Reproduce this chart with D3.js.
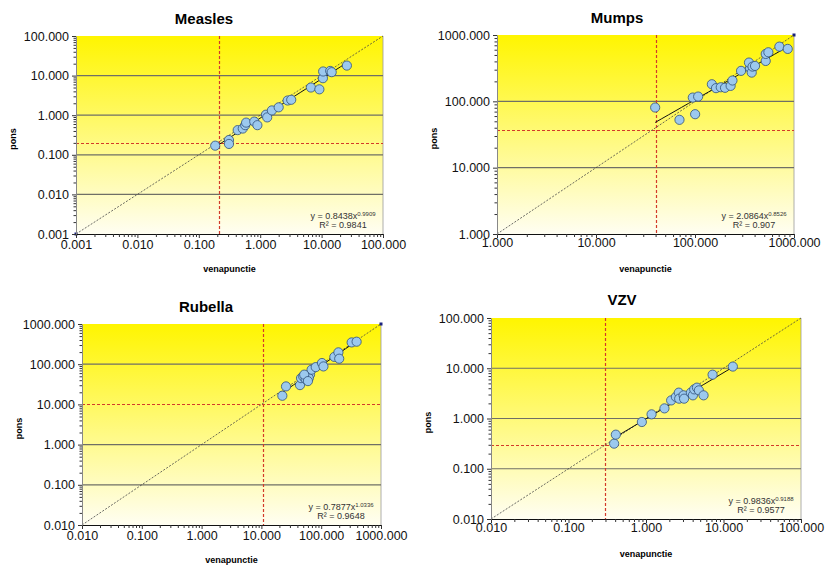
<!DOCTYPE html>
<html>
<head>
<meta charset="utf-8">
<script src="https://cdn.jsdelivr.net/npm/d3@7"></script>
<style>
  body { margin: 0; background: #fff; }
  svg { display: block; }
  text { font-family: Arial, "Liberation Sans", sans-serif; }
</style>
</head>
<body>
<svg id="chart" width="827" height="567"></svg>
<script>
// measured values (venapunctie = x, pons = y)
const measlesVena = [0.185, 0.31, 0.31, 0.43, 0.52, 0.57, 0.59, 0.8, 0.9, 1.24, 1.3, 1.55, 2.0, 2.8, 3.2, 6.7, 9.2, 10.5, 10.6, 13.8, 14.6, 25.8]
const measlesPons = [0.17, 0.236, 0.188, 0.42, 0.46, 0.56, 0.65, 0.69, 0.56, 1.03, 0.88, 1.32, 1.58, 2.35, 2.45, 5.0, 4.5, 8.6, 12.7, 13.1, 12.2, 17.9]

const mumpsVena = [39.6, 69.7, 95, 100.3, 107.6, 148, 163, 182, 201, 229, 239, 292, 360, 351, 374, 381, 404, 518, 518, 551, 712, 864]
const mumpsPons = [80.7, 52.6, 114, 64, 118, 181, 158, 163, 160, 171, 206, 288, 316, 384, 271, 334, 342, 406, 518, 549, 668, 617]

const rubellaVena = [22.4, 25.8, 44.2, 46, 50, 57, 55, 65, 62, 69, 81, 103, 109, 166, 194, 200, 323, 391, 52, 60]
const rubellaPons = [16.4, 28, 30.2, 45, 49.7, 51.5, 42.6, 55, 45, 72.9, 84.6, 107, 88, 152, 197, 137, 348, 363, 55, 38]

const vzvVena = [0.388, 0.408, 0.884, 1.18, 1.73, 2.11, 2.43, 2.65, 2.68, 3.05, 3.1, 3.79, 4.03, 4.19, 4.54, 4.81, 5.53, 7.23, 13.2]
const vzvPons = [0.316, 0.477, 0.852, 1.21, 1.59, 2.29, 2.69, 3.27, 2.48, 2.89, 2.48, 3.27, 2.89, 3.8, 4.11, 3.63, 2.89, 7.45, 10.8]

// tick values per chart
const measlesTicks = [0.001, 0.01, 0.1, 1, 10, 100]
const mumpsTicks = [1, 10, 100, 1000]
const rubellaTicks = [0.01, 0.1, 1, 10, 100, 1000]
const vzvTicks = [0.01, 0.1, 1, 10, 100]

// power fit: [a, b, R2]
const measlesFit = ['0.8438', '0.9909', '0.9841']
const mumpsFit = ['2.0864', '0.8526', '0.907']
const rubellaFit = ['0.7877', '1.0336', '0.9648']
const vzvFit = ['0.9836', '0.9188', '0.9577']

// cut-off lines: [x, y]
const measlesCut = [0.21, 0.2]
const mumpsCut = [40, 37]
const rubellaCut = [10.8, 10]
const vzvCut = [0.3, 0.3]

const panels = [
  { name: 'Measles', vx: measlesVena, py: measlesPons, ticks: measlesTicks, fit: measlesFit, cut: measlesCut,
    l: 76, r: 383, t: 36, b: 234, titleX: 204, titleY: 23.5, labelOff: 15, marker: 'low' },
  { name: 'Mumps', vx: mumpsVena, py: mumpsPons, ticks: mumpsTicks, fit: mumpsFit, cut: mumpsCut,
    l: 497, r: 794, t: 35, b: 234, titleX: 617, titleY: 23, labelOff: 13, marker: 'high' },
  { name: 'Rubella', vx: rubellaVena, py: rubellaPons, ticks: rubellaTicks, fit: rubellaFit, cut: rubellaCut,
    l: 82, r: 381, t: 324, b: 525, titleX: 206, titleY: 312, labelOff: 15, marker: 'high' },
  { name: 'VZV', vx: vzvVena, py: vzvPons, ticks: vzvTicks, fit: vzvFit, cut: vzvCut,
    l: 491, r: 801, t: 318, b: 519, titleX: 622, titleY: 305, labelOff: 13, marker: null }
]

const svg = d3.select('#chart')
const defs = svg.append('defs')
const fmt = d3.format('.3f')

function minorTicks (ticks) {
  const out = []
  ticks.slice(0, -1).forEach(d => {
    for (let k = 2; k <= 9; k++) out.push(d * k)
  })
  return out
}

panels.forEach((p, i) => {
  const dom = [p.ticks[0], p.ticks[p.ticks.length - 1]]
  const x = d3.scaleLog().domain(dom).range([p.l, p.r])
  const y = d3.scaleLog().domain(dom).range([p.b, p.t])
  const g = svg.append('g')

  const grad = defs.append('linearGradient')
    .attr('id', 'bg' + i).attr('x1', 0).attr('y1', 0).attr('x2', 0).attr('y2', 1)
  grad.append('stop').attr('offset', '0%').attr('stop-color', '#FFF500')
  grad.append('stop').attr('offset', '100%').attr('stop-color', '#FFFEF2')

  g.append('rect')
    .attr('x', p.l).attr('y', p.t)
    .attr('width', p.r - p.l).attr('height', p.b - p.t)
    .attr('fill', 'url(#bg' + i + ')')
  g.append('line')
    .attr('x1', p.r).attr('x2', p.r).attr('y1', p.t).attr('y2', p.b)
    .attr('stroke', '#999').attr('stroke-width', 0.8)

  // grid
  g.selectAll('.grid')
    .data(p.ticks.slice(1, -1).filter(v => v !== p.cut[1]))
    .join('line')
    .attr('x1', p.l).attr('x2', p.r)
    .attr('y1', d => y(d)).attr('y2', d => y(d))
    .attr('stroke', '#6f6f66').attr('stroke-width', 1.2)

  // cut-offs (snapped to pixel centres so the red stays crisp)
  const cx = Math.round(x(p.cut[0])) + 0.5
  const cy = Math.round(y(p.cut[1])) + 0.5
  g.append('line')
    .attr('x1', cx).attr('x2', cx)
    .attr('y1', p.t).attr('y2', p.b)
    .attr('stroke', '#D23A2A').attr('stroke-width', 1.2).attr('stroke-dasharray', '3,2')
  g.append('line')
    .attr('x1', p.l).attr('x2', p.r)
    .attr('y1', cy).attr('y2', cy)
    .attr('stroke', '#D23A2A').attr('stroke-width', 1.2).attr('stroke-dasharray', '3,2')

  // identity line
  g.append('line')
    .attr('x1', x(dom[0])).attr('y1', y(dom[0]))
    .attr('x2', x(dom[1])).attr('y2', y(dom[1]))
    .attr('stroke', '#444').attr('stroke-width', 0.8).attr('stroke-dasharray', '2,1.5')

  // power fit
  const a = +p.fit[0]
  const b = +p.fit[1]
  const xs = d3.extent(p.vx)
  const fitPts = d3.range(0, 21).map(k => xs[0] * Math.pow(xs[1] / xs[0], k / 20))
  g.append('path')
    .attr('d', d3.line().x(d => x(d)).y(d => y(a * Math.pow(d, b)))(fitPts))
    .attr('fill', 'none').attr('stroke', '#111').attr('stroke-width', 1)

  // points
  g.selectAll('.pt')
    .data(p.vx.map((v, k) => [v, p.py[k]]))
    .join('circle')
    .attr('cx', d => x(d[0])).attr('cy', d => y(d[1]))
    .attr('r', 4.6)
    .attr('fill', '#9CC9EE').attr('stroke', '#2F4F7A').attr('stroke-width', 0.8)

  if (p.marker) {
    const m = p.marker === 'low' ? dom[0] : dom[1]
    g.append('rect')
      .attr('x', x(m) - 1.5).attr('y', y(m) - 1.5)
      .attr('width', 3).attr('height', 3).attr('fill', '#1a237e')
  }

  // axes
  const xAxis = g.append('g').attr('transform', 'translate(0,' + p.b + ')')
    .call(d3.axisBottom(x).tickValues(p.ticks).tickFormat(fmt).tickSize(4).tickSizeOuter(0))
  xAxis.select('.domain').attr('stroke', '#111').attr('stroke-width', 1.2)
  xAxis.selectAll('text').attr('font-size', 12.5).attr('fill', '#111')
    .attr('y', p.labelOff - 4).attr('dy', '0.35em')
  g.append('g').attr('transform', 'translate(0,' + p.b + ')')
    .call(d3.axisBottom(x).tickValues(minorTicks(p.ticks)).tickFormat('').tickSize(3))
    .call(s => s.select('.domain').remove())

  const yAxis = g.append('g').attr('transform', 'translate(' + p.l + ',0)')
    .call(d3.axisLeft(y).tickValues(p.ticks).tickFormat(fmt).tickSize(4).tickSizeOuter(0))
  yAxis.select('.domain').attr('stroke', '#888').attr('stroke-width', 1)
  yAxis.selectAll('text').attr('font-size', 12.5).attr('fill', '#111').attr('x', -7)
  g.append('g').attr('transform', 'translate(' + p.l + ',0)')
    .call(d3.axisLeft(y).tickValues(minorTicks(p.ticks)).tickFormat('').tickSize(2.5))
    .call(s => s.select('.domain').remove())

  g.selectAll('.tick line').attr('stroke', '#333')

  // titles
  g.append('text')
    .attr('x', p.titleX).attr('y', p.titleY)
    .attr('text-anchor', 'middle').attr('font-size', 15).attr('font-weight', 'bold')
    .text(p.name)
  g.append('text')
    .attr('x', (p.l + p.r) / 2).attr('y', p.b + 38)
    .attr('text-anchor', 'middle').attr('font-size', 9).attr('font-weight', 'bold')
    .text('venapunctie')
  g.append('text')
    .attr('transform', 'translate(' + (p.l - 60) + ',' + ((p.t + p.b) / 2 + 4) + ') rotate(-90)')
    .attr('text-anchor', 'middle').attr('font-size', 9).attr('font-weight', 'bold')
    .text('pons')

  // equation
  const eq = g.append('text')
    .attr('x', p.r - 40).attr('y', p.b - 15)
    .attr('text-anchor', 'middle').attr('font-size', 9).attr('fill', '#333')
  eq.append('tspan').text('y = ' + p.fit[0] + 'x')
  eq.append('tspan').attr('dy', -3).attr('font-size', 6).text(p.fit[1])
  g.append('text')
    .attr('x', p.r - 40).attr('y', p.b - 6)
    .attr('text-anchor', 'middle').attr('font-size', 9).attr('fill', '#333')
    .text('R² = ' + p.fit[2])
})
</script>
</body>
</html>
